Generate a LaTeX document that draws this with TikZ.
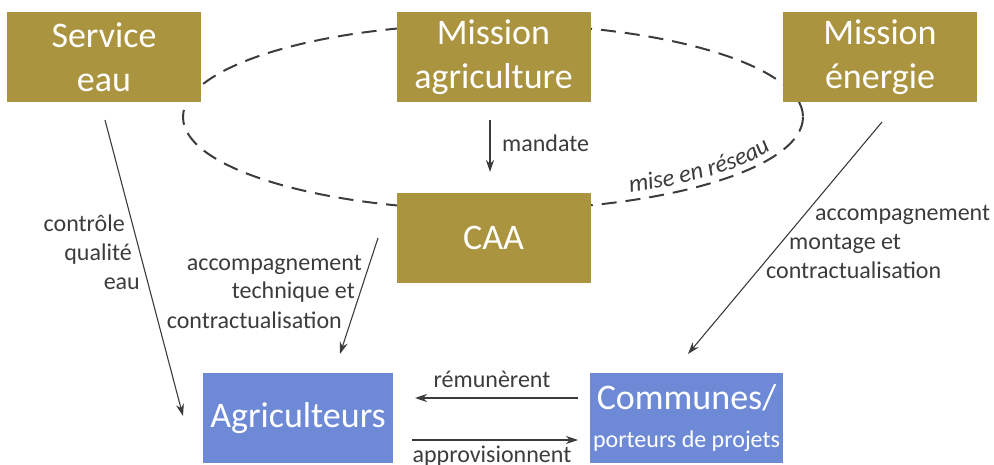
\documentclass[tikz,border=0pt]{standalone}
\usepackage{fontspec}
\setmainfont{Carlito}
\usetikzlibrary{arrows.meta,decorations.text}
\definecolor{gold}{RGB}{171,148,64}
\definecolor{bluebox}{RGB}{110,138,214}
\definecolor{ink}{RGB}{60,60,60}
\begin{document}
\begin{tikzpicture}[x=1pt,y=-1pt,
  goldbox/.style={fill=gold,draw=none,minimum width=194pt,minimum height=90pt,inner sep=0pt,
    text=white,align=center,font=\fontsize{36}{44}\selectfont},
  bluebx/.style={fill=bluebox,draw=none,minimum height=90pt,inner sep=0pt,
    text=white,align=center,font=\fontsize{36}{44}\selectfont},
  lbl/.style={inner sep=0pt,text=ink,font=\fontsize{24}{28}\selectfont},
  arr/.style={draw=ink,line width=1.1pt,-{Stealth[length=12pt,width=8pt]}}]
\useasboundingbox (0,0) rectangle (994,465);
% dashed network ellipse
\draw[ink,line width=2pt,dash pattern=on 15pt off 9pt] (493,117) ellipse [x radius=310,y radius=93];
\path[decorate,decoration={text along path,text align=center,
    text={|\color{ink}\itshape\fontsize{24.5}{28}\selectfont|mise en réseau}}]
  (493,117) ++(65:302 and 85) arc[start angle=65,end angle=19,x radius=302,y radius=85];
% boxes
\node[goldbox] (se) at (104,57) {Service\\eau};
\node[goldbox] (ma) at (493.5,57) {Mission\\agriculture};
\node[goldbox] (me) at (880,57) {Mission\\énergie};
\node[goldbox] (caa) at (493.5,238) {CAA};
\node[bluebx,minimum width=190pt] (agri) at (298,418) {Agriculteurs};
\node[bluebx,minimum width=193pt] (com) at (686.5,418) {Communes/\\[-6pt]{\fontsize{24}{28}\selectfont porteurs de projets}};
% connector end points
\coordinate (se1) at (105,120); \coordinate (se2) at (183,416);
\coordinate (ma1) at (490,120); \coordinate (ma2) at (490,172);
\coordinate (caa1) at (378,238); \coordinate (caa2) at (340,354);
\coordinate (me1) at (882,122); \coordinate (me2) at (688,354);
\coordinate (co1) at (578,398); \coordinate (ag1) at (415,398);
\coordinate (ag2) at (412,440); \coordinate (co2) at (578,440);
\draw[arr] (se1) -- (se2);
\draw[arr] (ma1) -- (ma2);
\draw[arr] (caa1) -- (caa2);
\draw[arr] (me1) -- (me2);
\draw[arr] (co1) -- (ag1);
\draw[arr] (ag2) -- (co2);
% labels
\node[lbl,anchor=base west] (lmand) at (502,152) {mandate};
\node[lbl,anchor=base east] (lc1) at (125,232) {contrôle};
\node[lbl,anchor=base east] (lc2) at (132,261) {qualité};
\node[lbl,anchor=base east] (lc3) at (140,290) {eau};
\node[lbl,anchor=base east] (lt1) at (362,271) {accompagnement};
\node[lbl,anchor=base east] (lt2) at (355,299) {technique et};
\node[lbl,anchor=base east] (lt3) at (342,329) {contractualisation};
\node[lbl,anchor=base west] (lm1) at (815,221) {accompagnement};
\node[lbl,anchor=base west] (lm2) at (789,250) {montage et};
\node[lbl,anchor=base west] (lm3) at (766,279) {contractualisation};
\node[lbl,anchor=base] (lrem) at (492,387) {rémunèrent};
\node[lbl,anchor=base] (lapp) at (492,462) {approvisionnent};
\end{tikzpicture}
\end{document}
